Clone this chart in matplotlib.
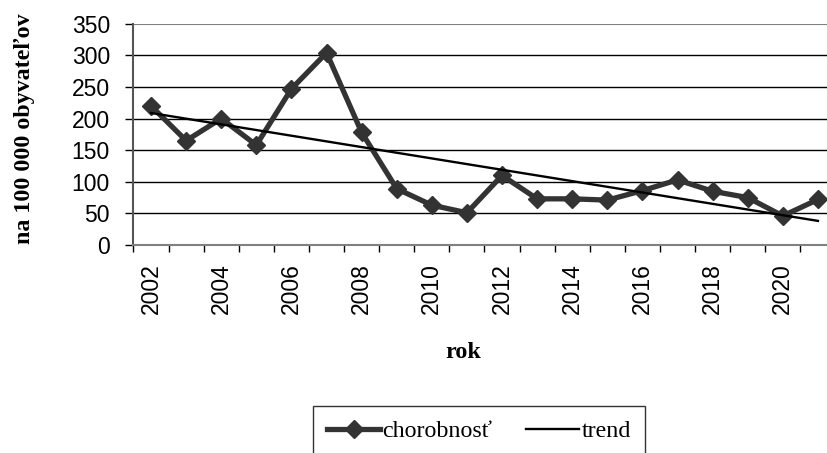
import matplotlib
matplotlib.use("Agg")
import matplotlib.pyplot as plt
import numpy as np
from matplotlib.lines import Line2D

years = [2002, 2003, 2004, 2005, 2006, 2007, 2008, 2009, 2010, 2011,
         2012, 2013, 2014, 2015, 2016, 2017, 2018, 2019, 2020, 2021]
chorobnost = [220, 165, 200, 158, 247, 304, 178, 89, 63, 51,
              110, 73, 73, 71, 86, 103, 85, 75, 46, 72]
yticks = [0, 50, 100, 150, 200, 250, 300, 350]
xlabels = [str(y) if y % 2 == 0 else "" for y in years]

x = np.arange(len(years))
coef = np.polyfit(x, chorobnost, 1)
trend = np.polyval(coef, x)

fig = plt.figure(figsize=(8.28, 4.53), dpi=100)
ax = fig.add_axes([133.5 / 828, 208 / 453, 702 / 828, 221.3 / 453])

for v in yticks[1:-1]:
    ax.axhline(v, color="black", lw=1.0, zorder=1)
ax.axhline(350, color="#808080", lw=1.5, zorder=1)

ax.plot(x, chorobnost, color="#333333", lw=3.8, marker="D", ms=9.5,
        markerfacecolor="#333333", markeredgecolor="#333333", zorder=3)
ax.plot([x[0], x[-1]], [trend[0], trend[-1]], color="black", lw=1.7, zorder=4)

ax.set_xlim(-0.5, len(years) - 0.5)
ax.set_ylim(0, 350)
ax.set_yticks(yticks)
ax.set_yticklabels([str(v) for v in yticks], family="Liberation Sans", fontsize=16.5)
ax.set_xticks(x)
ax.set_xticklabels(xlabels, rotation=90, family="Liberation Sans", fontsize=16.5)
ax.tick_params(axis="x", which="major", length=0, pad=13)
ax.set_xticks(np.arange(-0.5, len(years) + 0.5, 1), minor=True)
ax.tick_params(axis="x", which="minor", length=5, width=1, color="black", direction="out")
ax.tick_params(axis="y", length=6, width=1, color="black", direction="out", pad=11)

for s in ["top", "right"]:
    ax.spines[s].set_visible(False)
ax.spines["left"].set_color("#555555")
ax.spines["left"].set_linewidth(1.5)
ax.spines["bottom"].set_color("#808080")
ax.spines["bottom"].set_linewidth(1.5)

fig.text(25 / 828, 1 - 129 / 453, "na 100 000 obyvateľov", rotation=90,
         ha="center", va="center", family="Liberation Serif", fontweight="bold", fontsize=17.3)
fig.text(463 / 828, 1 - 353 / 453, "rok", ha="center", va="center",
         family="Liberation Serif", fontweight="bold", fontsize=17.3)

handles = [Line2D([], [], color="#333333", lw=3.8, marker="D", ms=9.5),
           Line2D([], [], color="black", lw=1.7)]
leg = fig.legend(handles, ["chorobnosť", "trend"], loc="upper center",
                 bbox_to_anchor=(479 / 828, 1 - 406 / 453), ncol=2,
                 prop={"family": "Liberation Serif", "size": 17.3},
                 frameon=True, fancybox=False, edgecolor="black",
                 handlelength=2.2, handletextpad=0.1, columnspacing=1.4,
                 borderpad=0.6, borderaxespad=0)
leg.get_frame().set_linewidth(1.0)

fig.savefig("out.png", dpi=100)
